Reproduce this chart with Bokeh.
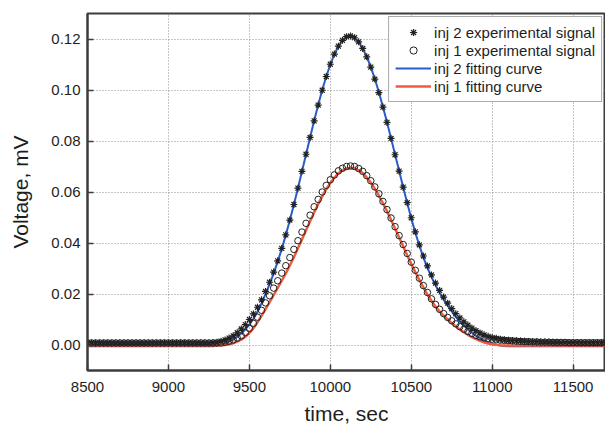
from bokeh.plotting import figure
from bokeh.models import Range1d, FixedTicker, PrintfTickFormatter, Legend, LegendItem
from bokeh.embed import file_html
from bokeh.resources import INLINE

# ---- data ----
time_s = [
    8500, 8525, 8550, 8575, 8600, 8625, 8650, 8675, 8700, 8725,
    8750, 8775, 8800, 8825, 8850, 8875, 8900, 8925, 8950, 8975,
    9000, 9025, 9050, 9075, 9100, 9125, 9150, 9175, 9200, 9225,
    9250, 9275, 9300, 9325, 9350, 9375, 9400, 9425, 9450, 9475,
    9500, 9525, 9550, 9575, 9600, 9625, 9650, 9675, 9700, 9725,
    9750, 9775, 9800, 9825, 9850, 9875, 9900, 9925, 9950, 9975,
    10000, 10025, 10050, 10075, 10100, 10125, 10150, 10175, 10200, 10225,
    10250, 10275, 10300, 10325, 10350, 10375, 10400, 10425, 10450, 10475,
    10500, 10525, 10550, 10575, 10600, 10625, 10650, 10675, 10700, 10725,
    10750, 10775, 10800, 10825, 10850, 10875, 10900, 10925, 10950, 10975,
    11000, 11025, 11050, 11075, 11100, 11125, 11150, 11175, 11200, 11225,
    11250, 11275, 11300, 11325, 11350, 11375, 11400, 11425, 11450, 11475,
    11500, 11525, 11550, 11575, 11600, 11625, 11650, 11675, 11700,
]

inj2_exp = [
    0.0008, 0.0008, 0.0008, 0.0008, 0.0008, 0.0008, 0.0008, 0.0008, 0.0008, 0.0008,
    0.0008, 0.0008, 0.0008, 0.0008, 0.0008, 0.0008, 0.0008, 0.0008, 0.0008, 0.0008,
    0.0008, 0.0008, 0.0008, 0.0008, 0.0008, 0.0008, 0.0008, 0.0008, 0.0008, 0.0008,
    0.0008, 0.0009, 0.0011, 0.0015, 0.0020, 0.0027, 0.0036, 0.0048, 0.0063, 0.0080,
    0.0100, 0.0122, 0.0148, 0.0177, 0.0210, 0.0246, 0.0286, 0.0330, 0.0379, 0.0432,
    0.0490, 0.0551, 0.0615, 0.0681, 0.0748, 0.0814, 0.0879, 0.0941, 0.0999, 0.1053,
    0.1101, 0.1141, 0.1172, 0.1195, 0.1209, 0.1212, 0.1205, 0.1189, 0.1163, 0.1130,
    0.1090, 0.1043, 0.0990, 0.0933, 0.0873, 0.0810, 0.0746, 0.0682, 0.0619, 0.0558,
    0.0499, 0.0444, 0.0393, 0.0349, 0.0310, 0.0275, 0.0243, 0.0214, 0.0188, 0.0164,
    0.0143, 0.0123, 0.0106, 0.0091, 0.0078, 0.0066, 0.0056, 0.0047, 0.0040, 0.0034,
    0.0029, 0.0026, 0.0023, 0.0021, 0.0019, 0.0018, 0.0017, 0.0016, 0.0015, 0.0014,
    0.0013, 0.0013, 0.0012, 0.0012, 0.0011, 0.0011, 0.0011, 0.0010, 0.0010, 0.0010,
    0.0010, 0.0010, 0.0009, 0.0009, 0.0009, 0.0009, 0.0009, 0.0009, 0.0009,
]

inj1_exp = [
    0.0008, 0.0008, 0.0008, 0.0008, 0.0008, 0.0008, 0.0008, 0.0008, 0.0008, 0.0008,
    0.0008, 0.0008, 0.0008, 0.0008, 0.0008, 0.0008, 0.0008, 0.0008, 0.0008, 0.0008,
    0.0008, 0.0008, 0.0008, 0.0008, 0.0008, 0.0008, 0.0008, 0.0008, 0.0008, 0.0008,
    0.0008, 0.0008, 0.0008, 0.0008, 0.0011, 0.0015, 0.0020, 0.0027, 0.0036, 0.0049,
    0.0065, 0.0085, 0.0109, 0.0136, 0.0165, 0.0193, 0.0223, 0.0252, 0.0282, 0.0311,
    0.0343, 0.0375, 0.0409, 0.0443, 0.0477, 0.0509, 0.0542, 0.0571, 0.0600, 0.0626,
    0.0648, 0.0667, 0.0683, 0.0693, 0.0700, 0.0702, 0.0700, 0.0692, 0.0681, 0.0664,
    0.0644, 0.0620, 0.0593, 0.0563, 0.0531, 0.0498, 0.0464, 0.0429, 0.0394, 0.0359,
    0.0325, 0.0293, 0.0262, 0.0233, 0.0206, 0.0181, 0.0159, 0.0140, 0.0123, 0.0108,
    0.0095, 0.0083, 0.0072, 0.0062, 0.0053, 0.0045, 0.0038, 0.0032, 0.0028, 0.0025,
    0.0023, 0.0021, 0.0019, 0.0018, 0.0017, 0.0016, 0.0015, 0.0014, 0.0013, 0.0013,
    0.0012, 0.0012, 0.0011, 0.0011, 0.0011, 0.0010, 0.0010, 0.0010, 0.0010, 0.0009,
    0.0009, 0.0009, 0.0009, 0.0009, 0.0009, 0.0009, 0.0009, 0.0009, 0.0009,
]

inj2_fit = [
    -0.0005, -0.0005, -0.0005, -0.0005, -0.0005, -0.0005, -0.0005, -0.0005, -0.0005, -0.0005,
    -0.0005, -0.0005, -0.0005, -0.0005, -0.0005, -0.0005, -0.0005, -0.0005, -0.0005, -0.0005,
    -0.0005, -0.0005, -0.0005, -0.0005, -0.0005, -0.0005, -0.0005, -0.0005, -0.0005, -0.0005,
    -0.0005, -0.0005, -0.0003, 0.0001, 0.0006, 0.0013, 0.0021, 0.0032, 0.0045, 0.0061,
    0.0080, 0.0103, 0.0130, 0.0163, 0.0200, 0.0239, 0.0281, 0.0327, 0.0377, 0.0431,
    0.0489, 0.0551, 0.0615, 0.0681, 0.0747, 0.0814, 0.0879, 0.0941, 0.1000, 0.1053,
    0.1100, 0.1140, 0.1171, 0.1194, 0.1207, 0.1210, 0.1203, 0.1188, 0.1163, 0.1131,
    0.1090, 0.1044, 0.0991, 0.0934, 0.0874, 0.0811, 0.0747, 0.0683, 0.0619, 0.0557,
    0.0497, 0.0441, 0.0390, 0.0344, 0.0303, 0.0267, 0.0234, 0.0205, 0.0178, 0.0154,
    0.0132, 0.0110, 0.0092, 0.0076, 0.0061, 0.0048, 0.0036, 0.0026, 0.0018, 0.0011,
    0.0005, 0.0001, -0.0002, -0.0004, -0.0005, -0.0005, -0.0005, -0.0005, -0.0005, -0.0005,
    -0.0005, -0.0005, -0.0005, -0.0005, -0.0005, -0.0005, -0.0005, -0.0005, -0.0005, -0.0005,
    -0.0005, -0.0005, -0.0005, -0.0005, -0.0005, -0.0005, -0.0005, -0.0005, -0.0005,
]

inj1_fit = [
    -0.0002, -0.0002, -0.0002, -0.0002, -0.0002, -0.0002, -0.0002, -0.0002, -0.0002, -0.0002,
    -0.0002, -0.0002, -0.0002, -0.0002, -0.0002, -0.0002, -0.0002, -0.0002, -0.0002, -0.0002,
    -0.0002, -0.0002, -0.0002, -0.0002, -0.0002, -0.0002, -0.0002, -0.0002, -0.0002, -0.0002,
    -0.0002, -0.0002, -0.0002, -0.0001, 0.0000, 0.0003, 0.0007, 0.0013, 0.0021, 0.0032,
    0.0047, 0.0066, 0.0089, 0.0114, 0.0141, 0.0168, 0.0196, 0.0224, 0.0252, 0.0281,
    0.0312, 0.0344, 0.0379, 0.0414, 0.0450, 0.0485, 0.0520, 0.0552, 0.0583, 0.0611,
    0.0635, 0.0656, 0.0673, 0.0685, 0.0692, 0.0695, 0.0693, 0.0685, 0.0674, 0.0657,
    0.0637, 0.0613, 0.0586, 0.0556, 0.0525, 0.0491, 0.0457, 0.0422, 0.0387, 0.0352,
    0.0318, 0.0286, 0.0255, 0.0226, 0.0198, 0.0173, 0.0151, 0.0132, 0.0115, 0.0100,
    0.0086, 0.0073, 0.0061, 0.0050, 0.0040, 0.0031, 0.0023, 0.0016, 0.0010, 0.0006,
    0.0003, 0.0001, -0.0001, -0.0002, -0.0002, -0.0002, -0.0002, -0.0002, -0.0002, -0.0002,
    -0.0002, -0.0002, -0.0002, -0.0002, -0.0002, -0.0002, -0.0002, -0.0002, -0.0002, -0.0002,
    -0.0002, -0.0002, -0.0002, -0.0002, -0.0002, -0.0002, -0.0002, -0.0002, -0.0002,
]

x_ticks = [8500, 9000, 9500, 10000, 10500, 11000, 11500]
y_ticks = [0.00, 0.02, 0.04, 0.06, 0.08, 0.10, 0.12]
labels = ["inj 2 experimental signal", "inj 1 experimental signal",
          "inj 2 fitting curve", "inj 1 fitting curve"]

FONT = "Liberation Sans"
TXT = "#1e1e1e"
AX = "#3c3c3c"

p = figure(width=605, height=427, output_backend="svg", toolbar_location=None,
           x_range=Range1d(8500, 11700), y_range=Range1d(-0.01, 0.13),
           min_border_left=87, min_border_right=0, min_border_top=13,
           min_border_bottom=55)
p.background_fill_color = "white"
p.border_fill_color = "white"
p.outline_line_color = AX
p.outline_line_width = 2

blue = p.line(time_s, inj2_fit, line_color="#2a5cc8", line_width=2)
orange = p.line(time_s, inj1_fit, line_color="#f25a3c", line_width=2.5)
circ = p.scatter(time_s, inj1_exp, marker="circle", size=6.5, fill_alpha=0,
                 line_color="#222222", line_width=1)
star = p.scatter(time_s, inj2_exp, marker="asterisk", size=7,
                 line_color="#222222", line_width=1.2)

for ax in (p.xaxis[0], p.yaxis[0]):
    ax.axis_line_color = AX
    ax.axis_line_width = 2
    ax.major_tick_line_color = AX
    ax.minor_tick_line_color = AX
    ax.major_tick_line_width = 1.5
    ax.minor_tick_line_width = 1.5
    ax.major_tick_in = 6
    ax.major_tick_out = 0
    ax.minor_tick_in = 3
    ax.minor_tick_out = 0
    ax.major_label_text_font = FONT
    ax.major_label_text_font_size = "15px"
    ax.major_label_text_color = TXT
    ax.axis_label_text_font = FONT
    ax.axis_label_text_font_size = "21px"
    ax.axis_label_text_font_style = "normal"
    ax.axis_label_text_color = TXT

p.xaxis[0].ticker = FixedTicker(ticks=x_ticks, num_minor_ticks=2)
p.yaxis[0].ticker = FixedTicker(ticks=y_ticks, num_minor_ticks=2)
p.yaxis[0].formatter = PrintfTickFormatter(format="%.2f")
p.xaxis[0].axis_label = "time, sec"
p.yaxis[0].axis_label = "Voltage, mV"
p.xaxis[0].major_label_standoff = 11
p.yaxis[0].major_label_standoff = 7
p.xaxis[0].axis_label_standoff = 7
p.yaxis[0].axis_label_standoff = 16

p.xgrid.grid_line_color = "#8c8c8c"
p.ygrid.grid_line_color = "#8c8c8c"
p.xgrid.grid_line_dash = "1 2"
p.ygrid.grid_line_dash = "1 2"
p.xgrid.grid_line_width = 1
p.ygrid.grid_line_width = 1

legend = Legend(items=[
    LegendItem(label=labels[0], renderers=[star]),
    LegendItem(label=labels[1], renderers=[circ]),
    LegendItem(label=labels[2], renderers=[blue]),
    LegendItem(label=labels[3], renderers=[orange]),
], location="top_right")
legend.margin = 3
legend.padding = 6
legend.spacing = 0
legend.glyph_width = 36
legend.glyph_height = 18
legend.label_height = 18
legend.label_standoff = 3
legend.label_text_font = FONT
legend.label_text_font_size = "15px"
legend.label_text_color = TXT
legend.border_line_color = "#555555"
legend.border_line_width = 1
legend.background_fill_color = "white"
legend.background_fill_alpha = 1
p.add_layout(legend, "center")

open("out.html", "w").write(file_html(p, INLINE))
